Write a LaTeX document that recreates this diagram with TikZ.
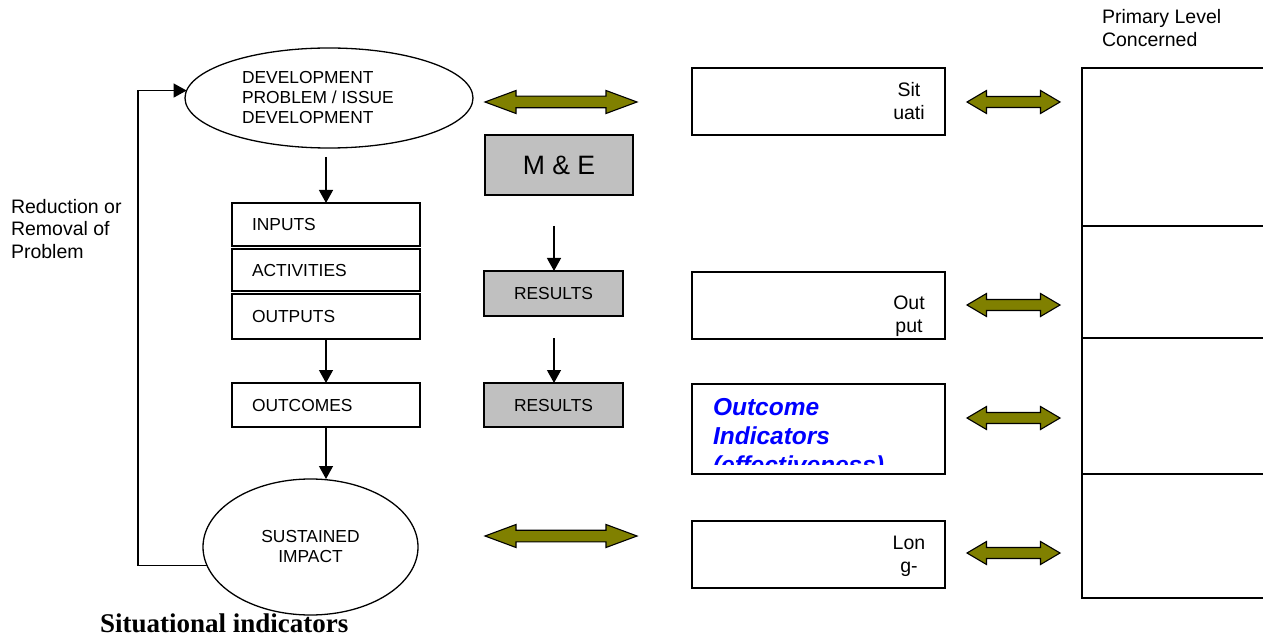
\documentclass[tikz,border=0pt]{standalone}
\usepackage{fontspec}
\setmainfont{Liberation Sans}
\newfontfamily\titleserif{Liberation Serif}
\usetikzlibrary{shapes.geometric,arrows.meta}

\definecolor{boxgrey}{HTML}{C0C0C0}
\definecolor{arrowolive}{HTML}{808000}
\definecolor{indblue}{HTML}{0000FF}

% two-headed block arrow: #1 left x, #2 right x, #3 centre y,
% #4 head length, #5 half shaft thickness, #6 half head height
\newcommand\twoheadarrow[6]{%
  \path[blockarrow] (#1,#3) -- (#1+#4,#3-#6) -- (#1+#4,#3-#5) -- (#2-#4,#3-#5)
    -- (#2-#4,#3-#6) -- (#2,#3) -- (#2-#4,#3+#6) -- (#2-#4,#3+#5)
    -- (#1+#4,#3+#5) -- (#1+#4,#3+#6) -- cycle;}

\begin{document}
\begin{tikzpicture}[x=1pt,y=-1pt,
  every node/.style={inner sep=0pt, outer sep=0pt},
  lbl/.style={font=\fontsize{17.4}{20}\selectfont},
  big/.style={font=\fontsize{19.5}{23}\selectfont},
  frame/.style={draw=black, line width=1.3pt},
  stagebox/.style={frame, rectangle, text width=148pt, inner xsep=20pt,
    align=left, text height=12.4pt, text depth=0pt, lbl},
  resultbox/.style={frame, rectangle, fill=boxgrey, minimum width=139pt,
    text height=12.4pt, text depth=0pt, lbl},
  indbox/.style={frame, rectangle, minimum width=253pt},
  oval/.style={frame, ellipse},
  conn/.style={line width=1.3pt, -{Triangle[length=13pt,width=14pt]}},
  blockarrow/.style={draw=black, line width=1.1pt, fill=arrowolive, line join=miter},
  tablerule/.style={line width=1.5pt}]

\useasboundingbox (0,0) rectangle (1263,636);

% problem / impact ovals (multi-line texts are placed by their last baseline)
\node[oval, minimum width=288pt, minimum height=100pt] (te) at (329,98) {};
\node[lbl, align=left, anchor=base west] (devtext) at (242,124)
  {DEVELOPMENT\\PROBLEM / ISSUE\\DEVELOPMENT};
\node[oval, minimum width=215pt, minimum height=136pt, lbl, align=center]
  (se) at (310.5,547) {SUSTAINED\\IMPACT};

% project chain
\node[stagebox, minimum height=43pt] (in)  at (326,224.5) {INPUTS};
\node[stagebox, minimum height=42pt] (act) at (326,270)   {ACTIVITIES};
\node[stagebox, minimum height=45pt] (out) at (326,316.5) {OUTPUTS};
\node[stagebox, minimum height=44pt] (oc)  at (326,405)   {OUTCOMES};

% monitoring and evaluation
\node[frame, fill=boxgrey, minimum width=148pt, minimum height=60pt,
  font=\fontsize{26.6}{30}\selectfont] (me) at (559,165) {M \& E};
\node[resultbox, minimum height=45pt] (r1) at (553.5,293.5) {RESULTS};
\node[resultbox, minimum height=44pt] (r2) at (553.5,405)   {RESULTS};
\coordinate (m1) at (554,226);
\coordinate (m2) at (554,338);

% indicator boxes
\node[indbox, minimum height=67pt] (sit)  at (818.5,101.5) {};
\node[indbox, minimum height=67pt] (outp) at (818.5,305.5) {};
\node[indbox, minimum height=90pt] (outc) at (818.5,429)   {};
\node[indbox, minimum height=67pt] (lon)  at (818.5,554.5) {};
\node[big, align=center, anchor=base] (sittext) at (909,120) {Sit\\uati};
\node[big, align=center, anchor=base] (outtext) at (909,332) {Out\\put};
\node[big, align=center, anchor=base] (lontext) at (909,572) {Lon\\g-};
\begin{scope}
  \clip (692,384) rectangle (945,464);
  \node[font=\fontsize{24.5}{29}\selectfont\bfseries\itshape, text=indblue,
    align=left, anchor=base west] (octext) at (713,473)
    {Outcome\\Indicators\\(effectiveness)};
\end{scope}

% level table on the right
\draw[frame] (1263,68) -- (1082,68) -- (1082,598) -- (1263,598);
\draw[tablerule] (1082,226) -- (1263,226);
\draw[tablerule] (1082,338) -- (1263,338);
\draw[tablerule] (1082,474) -- (1263,474);
\node[big, align=left, anchor=base west] (lvl) at (1102,47)
  {Primary Level\\Concerned};

% side labels
\node[big, align=left, anchor=base west] (red) at (11,259)
  {Reduction or\\Removal of\\Problem};
\node[font=\fontsize{27}{30}\selectfont\titleserif\bfseries, anchor=base west]
  (sitind) at (100,632) {Situational indicators};

% flow arrows
\draw[conn] ([yshift=-9pt]te.south -| in.north) -- (in.north);
\draw[conn] (out.south) -- (oc.north);
\draw[conn] (oc.south) -- (oc.south |- se.north);
\draw[conn] (m1) -- (r1.north -| m1);
\draw[conn] (m2) -- (r2.north -| m2);
\coordinate (fbx) at (138,0);
\draw[conn] (se.190) -- (se.190 -| fbx) |- (te.177);

% two-headed block arrows
\twoheadarrow{485}{637}{102}{31}{5.8}{11.5}
\twoheadarrow{485}{637}{536}{31}{5.8}{11.5}
\twoheadarrow{967}{1060}{102}{19.5}{5.5}{11.5}
\twoheadarrow{967}{1060}{305}{19.5}{5.5}{11.5}
\twoheadarrow{967}{1060}{418}{19.5}{5.5}{11.5}
\twoheadarrow{967}{1060}{553}{19.5}{5.5}{11.5}

\end{tikzpicture}
\end{document}
